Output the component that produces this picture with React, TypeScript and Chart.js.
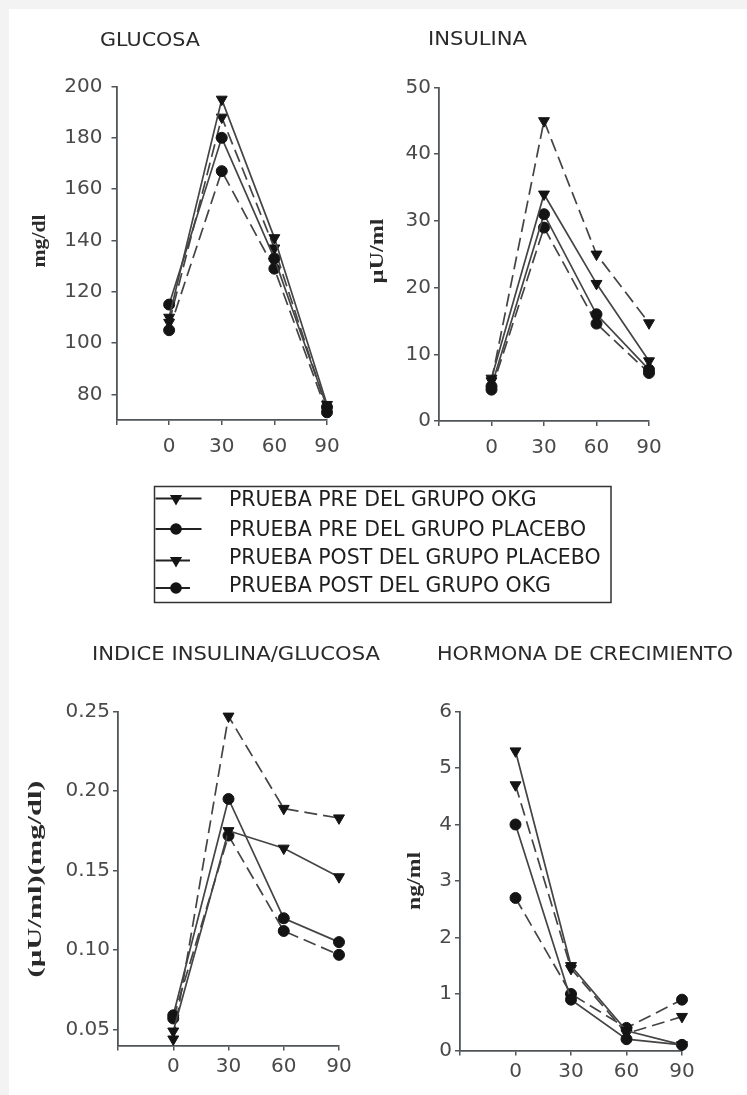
import React, { useEffect, useRef } from 'react';
import { Chart, registerables } from 'chart.js';

Chart.register(...registerables);

const PAGE_W = 747;
const PAGE_H = 1095;

// ---------- data ----------
const timeMinutes = [0, 30, 60, 90];
const xTickValues = [-30, 0, 30, 60, 90];

const seriesLabels = [
  'PRUEBA PRE DEL GRUPO OKG',
  'PRUEBA PRE DEL GRUPO PLACEBO',
  'PRUEBA POST DEL GRUPO PLACEBO',
  'PRUEBA POST DEL GRUPO OKG',
];

// GLUCOSA (mg/dl)
const glucosaPreOkg = [110, 195, 141, 76];
const glucosaPrePlacebo = [115, 180, 133, 75];
const glucosaPostPlacebo = [108, 188, 137, 74];
const glucosaPostOkg = [105, 167, 129, 73];
const glucosaTicks = [80, 100, 120, 140, 160, 180, 200];

// INSULINA (µU/ml)
const insulinaPreOkg = [6.4, 34, 20.6, 9];
const insulinaPrePlacebo = [5.2, 31, 16, 7.7];
const insulinaPostPlacebo = [6, 45, 25, 14.7];
const insulinaPostOkg = [4.7, 29, 14.6, 7.2];
const insulinaTicks = [0, 10, 20, 30, 40, 50];

// INDICE INSULINA/GLUCOSA
const indicePreOkg = [0.049, 0.175, 0.164, 0.146];
const indicePrePlacebo = [0.059, 0.195, 0.12, 0.105];
const indicePostPlacebo = [0.044, 0.247, 0.189, 0.183];
const indicePostOkg = [0.057, 0.172, 0.112, 0.097];
const indiceTicks = [0.05, 0.1, 0.15, 0.2, 0.25];

// HORMONA DE CRECIMIENTO (ng/ml)
const ghPreOkg = [5.3, 1.5, 0.35, 0.1];
const ghPrePlacebo = [4.0, 0.9, 0.2, 0.1];
const ghPostPlacebo = [4.7, 1.45, 0.3, 0.6];
const ghPostOkg = [2.7, 1.0, 0.4, 0.9];
const ghTicks = [0, 1, 2, 3, 4, 5, 6];

// ---------- styles ----------
const SANS = '"DejaVu Sans", Verdana, sans-serif';
const SERIF = '"Liberation Serif", "Times New Roman", serif';
const AXIS_COLOR = '#4f5559';
const TICK_COLOR = '#4a4a4a';
const TEXT_COLOR = '#2a2a2a';
const LINE_COLOR = '#444444';
const MARK_COLOR = '#141414';
const Y_AXIS_W = 60;
const X_AXIS_H = 40;

const seriesStyles = [
  { pointStyle: 'triangle', rotation: 180, radius: 6.3, dash: [] as number[] },
  { pointStyle: 'circle', rotation: 0, radius: 5.5, dash: [] as number[] },
  { pointStyle: 'triangle', rotation: 180, radius: 6.3, dash: [13, 6] },
  { pointStyle: 'circle', rotation: 0, radius: 5.5, dash: [13, 6] },
];

type Panel = {
  title: string;
  titleX: number;
  titleY: number;
  titleW: number;
  yTitle: string;
  yTitleX: number;
  yTitleY: number;
  yTitleLen: number;
  series: number[][];
  yMin: number;
  yMax: number;
  yTicks: number[];
  decimals: number;
  area: { left: number; right: number; top: number; bottom: number };
  xLabelPad: number;
  yLabelPad: number;
};

const panels: Panel[] = [
  {
    title: 'GLUCOSA', titleX: 100, titleY: 41, titleW: 100,
    yTitle: 'mg/dl', yTitleX: 40, yTitleY: 241, yTitleLen: 53,
    series: [glucosaPreOkg, glucosaPrePlacebo, glucosaPostPlacebo, glucosaPostOkg],
    yMin: 70, yMax: 200, yTicks: glucosaTicks, decimals: 0,
    area: { left: 116.5, right: 327, top: 86.5, bottom: 420 },
    xLabelPad: 10, yLabelPad: 9,
  },
  {
    title: 'INSULINA', titleX: 428, titleY: 40, titleW: 99,
    yTitle: 'µU/ml', yTitleX: 378, yTitleY: 251, yTitleLen: 65,
    series: [insulinaPreOkg, insulinaPrePlacebo, insulinaPostPlacebo, insulinaPostOkg],
    yMin: 0, yMax: 50, yTicks: insulinaTicks, decimals: 0,
    area: { left: 439, right: 649, top: 87.5, bottom: 421 },
    xLabelPad: 10, yLabelPad: 3,
  },
  {
    title: 'INDICE INSULINA/GLUCOSA', titleX: 92, titleY: 655, titleW: 288,
    yTitle: '(µU/ml)(mg/dl)', yTitleX: 36, yTitleY: 879, yTitleLen: 197,
    series: [indicePreOkg, indicePrePlacebo, indicePostPlacebo, indicePostOkg],
    yMin: 0.04, yMax: 0.25, yTicks: indiceTicks, decimals: 2,
    area: { left: 118, right: 339, top: 711.5, bottom: 1045.5 },
    xLabelPad: 4, yLabelPad: 3,
  },
  {
    title: 'HORMONA DE CRECIMIENTO', titleX: 437, titleY: 655, titleW: 296,
    yTitle: 'ng/ml', yTitleX: 415, yTitleY: 881, yTitleLen: 58,
    series: [ghPreOkg, ghPrePlacebo, ghPostPlacebo, ghPostOkg],
    yMin: 0, yMax: 6, yTicks: ghTicks, decimals: 0,
    area: { left: 460, right: 682, top: 711.5, bottom: 1050.5 },
    xLabelPad: 4, yLabelPad: 3,
  },
];

// legend layout
const LEGEND_BOX = { left: 154.5, top: 486.5, right: 611, bottom: 602.5 };
const legendMarkerY = [498.5, 529, 560.5, 588];
const legendTextY = [501, 530.5, 559, 587];
const legendLineEnd = [201.5, 201.5, 190, 190];

// ---------- drawing helpers ----------
function drawFitted(ctx: CanvasRenderingContext2D, text: string, cx: number, cy: number, len: number, font: string, color: string, rotate: boolean) {
  ctx.save();
  ctx.font = font;
  ctx.fillStyle = color;
  ctx.textAlign = 'center';
  ctx.textBaseline = 'middle';
  const w = ctx.measureText(text).width || 1;
  ctx.translate(cx, cy);
  if (rotate) ctx.rotate(-Math.PI / 2);
  ctx.scale(len / w, 1);
  ctx.fillText(text, 0, 0);
  ctx.restore();
}

function drawMarker(ctx: CanvasRenderingContext2D, style: string, x: number, y: number, r: number) {
  ctx.beginPath();
  if (style === 'triangle') {
    ctx.moveTo(x, y + r);
    ctx.lineTo(x - r * Math.sin(Math.PI / 3), y - r / 2);
    ctx.lineTo(x + r * Math.sin(Math.PI / 3), y - r / 2);
    ctx.closePath();
  } else {
    ctx.arc(x, y, r, 0, Math.PI * 2);
  }
  ctx.fill();
}

const panelTextPlugin = {
  id: 'panelText',
  afterDraw(chart: any) {
    const o = chart.options.plugins.panelText;
    const ctx: CanvasRenderingContext2D = chart.ctx;
    drawFitted(ctx, o.title, o.titleX + o.titleW / 2, o.titleY, o.titleW, `20px ${SANS}`, TEXT_COLOR, false);
    drawFitted(ctx, o.yTitle, o.yTitleX, o.yTitleY, o.yTitleLen, `bold 19px ${SERIF}`, '#2a2a2a', true);
    if (o.showLegend) {
      ctx.save();
      ctx.strokeStyle = '#333';
      ctx.lineWidth = 1.5;
      ctx.strokeRect(LEGEND_BOX.left, LEGEND_BOX.top, LEGEND_BOX.right - LEGEND_BOX.left, LEGEND_BOX.bottom - LEGEND_BOX.top);
      chart.data.datasets.forEach((ds: any, i: number) => {
        const st = seriesStyles[i];
        ctx.strokeStyle = '#222';
        ctx.lineWidth = 1.8;
        ctx.setLineDash([]);
        ctx.beginPath();
        ctx.moveTo(LEGEND_BOX.left + 1, legendMarkerY[i]);
        ctx.lineTo(legendLineEnd[i], legendMarkerY[i]);
        ctx.stroke();
        ctx.fillStyle = MARK_COLOR;
        drawMarker(ctx, st.pointStyle, 176, legendMarkerY[i], st.pointStyle === 'triangle' ? 7 : 5.8);
        ctx.font = `20.5px ${SANS}`;
        ctx.fillStyle = '#1e1e1e';
        ctx.textAlign = 'left';
        ctx.textBaseline = 'middle';
        ctx.fillText(ds.label, 229, legendTextY[i]);
      });
      ctx.restore();
    }
  },
};

function buildConfig(p: Panel, showLegend: boolean): any {
  return {
    type: 'line',
    data: {
      datasets: p.series.map((vals, i) => ({
        label: seriesLabels[i],
        data: timeMinutes.map((t, k) => ({ x: t, y: vals[k] })),
        borderColor: LINE_COLOR,
        borderWidth: 1.7,
        borderDash: seriesStyles[i].dash,
        pointStyle: seriesStyles[i].pointStyle,
        pointRotation: seriesStyles[i].rotation,
        pointRadius: seriesStyles[i].radius,
        pointBackgroundColor: MARK_COLOR,
        pointBorderColor: MARK_COLOR,
        pointBorderWidth: 1,
        fill: false,
        tension: 0,
        clip: false,
      })),
    },
    options: {
      animation: false,
      responsive: false,
      maintainAspectRatio: false,
      devicePixelRatio: 1,
      events: [],
      layout: {
        padding: {
          left: p.area.left - Y_AXIS_W,
          right: PAGE_W - p.area.right,
          top: p.area.top,
          bottom: PAGE_H - p.area.bottom - X_AXIS_H,
        },
      },
      plugins: {
        legend: { display: false },
        tooltip: { enabled: false },
        title: { display: false },
        panelText: {
          title: p.title, titleX: p.titleX, titleY: p.titleY, titleW: p.titleW,
          yTitle: p.yTitle, yTitleX: p.yTitleX, yTitleY: p.yTitleY, yTitleLen: p.yTitleLen,
          showLegend,
        },
      },
      scales: {
        x: {
          type: 'linear',
          min: -30,
          max: 90,
          afterBuildTicks: (s: any) => { s.ticks = xTickValues.map((v) => ({ value: v })); },
          afterFit: (s: any) => { s.height = X_AXIS_H; },
          ticks: {
            autoSkip: false,
            maxRotation: 0,
            padding: p.xLabelPad,
            color: TICK_COLOR,
            font: { family: SANS, size: 20 },
            callback: (v: any) => (Number(v) < 0 ? '' : String(v)),
          },
          grid: { drawOnChartArea: false, drawTicks: true, tickLength: 5, color: AXIS_COLOR, lineWidth: 1.5 },
          border: { display: true, color: AXIS_COLOR, width: 1.8 },
        },
        y: {
          type: 'linear',
          min: p.yMin,
          max: p.yMax,
          afterBuildTicks: (s: any) => { s.ticks = p.yTicks.map((v) => ({ value: v })); },
          afterFit: (s: any) => { s.width = Y_AXIS_W; },
          ticks: {
            autoSkip: false,
            padding: p.yLabelPad,
            color: TICK_COLOR,
            font: { family: SANS, size: 20 },
            callback: (v: any) => Number(v).toFixed(p.decimals),
          },
          grid: { drawOnChartArea: false, drawTicks: true, tickLength: 5, color: AXIS_COLOR, lineWidth: 1.5 },
          border: { display: true, color: AXIS_COLOR, width: 1.8 },
        },
      },
    },
    plugins: [panelTextPlugin],
  };
}

function PanelChart({ panel, showLegend }: { panel: Panel; showLegend: boolean }) {
  const ref = useRef<HTMLCanvasElement>(null);
  useEffect(() => {
    if (!ref.current) return;
    const chart = new Chart(ref.current, buildConfig(panel, showLegend));
    return () => chart.destroy();
  }, [panel, showLegend]);
  return (
    <canvas
      ref={ref}
      width={PAGE_W}
      height={PAGE_H}
      style={{ position: 'absolute', left: 0, top: 0, width: PAGE_W, height: PAGE_H }}
    />
  );
}

export default function App() {
  return (
    <div style={{ position: 'absolute', left: 0, top: 0, width: PAGE_W, height: PAGE_H, background: '#f3f3f3', overflow: 'hidden' }}>
      <div style={{ position: 'absolute', left: 9, top: 9, right: 0, bottom: 0, background: '#ffffff' }} />
      {panels.map((p, i) => (
        <PanelChart key={p.title} panel={p} showLegend={i === 0} />
      ))}
    </div>
  );
}
